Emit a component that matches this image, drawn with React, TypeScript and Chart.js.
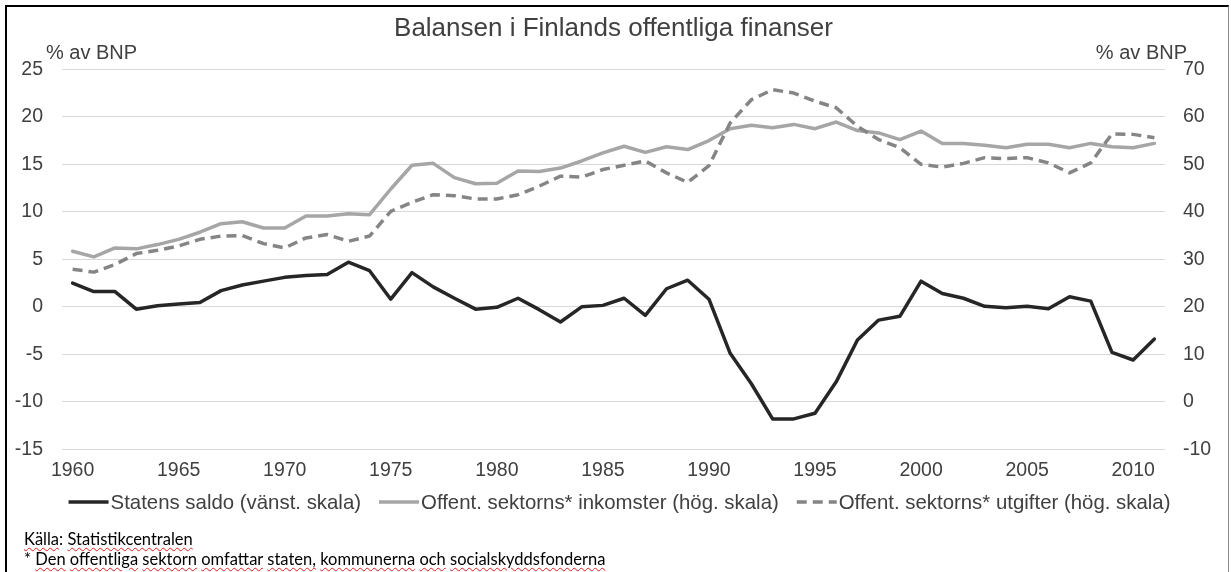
import React, { useEffect, useRef } from "react";
import { Chart, registerables } from "chart.js";

Chart.register(...registerables);

// ---------- data ----------
const years = [
  "1960", "1961", "1962", "1963", "1964", "1965", "1966", "1967", "1968", "1969",
  "1970", "1971", "1972", "1973", "1974", "1975", "1976", "1977", "1978", "1979",
  "1980", "1981", "1982", "1983", "1984", "1985", "1986", "1987", "1988", "1989",
  "1990", "1991", "1992", "1993", "1994", "1995", "1996", "1997", "1998", "1999",
  "2000", "2001", "2002", "2003", "2004", "2005", "2006", "2007", "2008", "2009",
  "2010", "2011",
];

const xTickLabels = ["1960", "1965", "1970", "1975", "1980", "1985", "1990", "1995", "2000", "2005", "2010"];

// Statens saldo (% av BNP), left scale
const statensSaldo = [
  2.5, 1.6, 1.6, -0.25, 0.1, 0.3, 0.45, 1.7, 2.3, 2.7,
  3.1, 3.3, 3.4, 4.7, 3.8, 0.8, 3.6, 2.1, 0.9, -0.25,
  -0.05, 0.9, -0.3, -1.6, 0.0, 0.15, 0.9, -0.9, 1.9, 2.8,
  0.8, -4.9, -8.1, -11.8, -11.8, -11.2, -7.9, -3.5, -1.4, -1.0,
  2.7, 1.4, 0.9, 0.05, -0.1, 0.05, -0.2, 1.05, 0.6, -4.8,
  -5.6, -3.4,
];

// Offentliga sektorns inkomster (% av BNP), right scale
const inkomster = [
  31.7, 30.5, 32.4, 32.2, 33.1, 34.2, 35.7, 37.5, 37.9, 36.6,
  36.6, 39.1, 39.1, 39.6, 39.4, 44.8, 49.8, 50.2, 47.2, 45.9,
  46.0, 48.6, 48.5, 49.2, 50.7, 52.4, 53.8, 52.5, 53.7, 53.1,
  55.0, 57.5, 58.2, 57.7, 58.4, 57.5, 58.9, 57.1, 56.6, 55.2,
  57.0, 54.4, 54.4, 54.0, 53.5, 54.2, 54.2, 53.5, 54.4, 53.7,
  53.5, 54.4,
];

// Offentliga sektorns utgifter (% av BNP), right scale
const utgifter = [
  27.9, 27.3, 28.9, 31.2, 31.9, 32.8, 34.2, 34.9, 35.0, 33.3,
  32.4, 34.5, 35.2, 33.8, 34.9, 40.1, 42.0, 43.6, 43.4, 42.7,
  42.7, 43.6, 45.4, 47.5, 47.3, 48.9, 49.8, 50.7, 48.2, 46.2,
  49.7, 58.7, 63.6, 65.7, 65.0, 63.3, 61.9, 58.0, 55.2, 53.5,
  50.0, 49.4, 50.2, 51.4, 51.2, 51.4, 50.3, 48.2, 50.3, 56.4,
  56.3, 55.6,
];

const leftMin = -15;
const leftMax = 25;
const leftStep = 5;
const rightMin = -10;
const rightMax = 70;
const rightStep = 10;

const chartTitle = "Balansen i Finlands offentliga finanser";
const axisTitle = "% av BNP";
const seriesNames = [
  "Statens saldo (vänst. skala)",
  "Offent. sektorns* inkomster (hög. skala)",
  "Offent. sektorns* utgifter (hög. skala)",
];
const sourceLabel = "Källa";
const sourceName = "Statistikcentralen";
const footNoteWords = ["Den", "offentliga", "sektorn", "omfattar", "staten,", "kommunerna", "och", "socialskyddsfonderna"];

// ---------- styles ----------
const FONT = '"Liberation Sans", Arial, sans-serif';
const TEXT = "#404040";
const GRID = "#D9D9D9";

const overlayPlugin = {
  id: "overlay",
  afterDraw(chart: any) {
    const { ctx, chartArea } = chart;
    ctx.save();
    ctx.fillStyle = TEXT;
    ctx.textBaseline = "alphabetic";

    // title
    ctx.font = `26px ${FONT}`;
    ctx.textAlign = "center";
    ctx.fillText(chartTitle, (chartArea.left + chartArea.right) / 2, 36);

    // axis titles
    ctx.font = `20px ${FONT}`;
    ctx.textAlign = "left";
    ctx.fillText(axisTitle, chartArea.left - 16, 59);
    ctx.textAlign = "right";
    ctx.fillText(axisTitle, chartArea.right + 22, 59);

    // legend
    const items = chart.data.datasets.map((ds: any) => ({
      text: ds.label,
      color: ds.borderColor,
      dash: ds.borderDash || [],
      width: ds.borderWidth,
    }));
    const sampleW = 40;
    const textGap = 2;
    const itemGap = 18;
    ctx.font = `20.4px ${FONT}`;
    let total = 0;
    items.forEach((it: any, i: number) => {
      it.tw = ctx.measureText(it.text).width;
      total += sampleW + textGap + it.tw + (i > 0 ? itemGap : 0);
    });
    let x = 619.5 - total / 2;
    const lineY = 502;
    const baseY = 509;
    items.forEach((it: any) => {
      ctx.save();
      ctx.strokeStyle = it.color;
      ctx.lineWidth = it.width;
      ctx.setLineDash(it.dash);
      ctx.lineCap = "butt";
      ctx.beginPath();
      ctx.moveTo(x, lineY);
      ctx.lineTo(x + sampleW, lineY);
      ctx.stroke();
      ctx.restore();
      ctx.textAlign = "left";
      ctx.fillStyle = TEXT;
      ctx.fillText(it.text, x + sampleW + textGap, baseY);
      x += sampleW + textGap + it.tw + itemGap;
    });
    ctx.restore();
  },
};

const wavy: React.CSSProperties = {
  textDecorationLine: "underline",
  textDecorationStyle: "wavy",
  textDecorationColor: "#e02020",
  textDecorationThickness: "1px",
  textUnderlineOffset: "2px",
};

export default function App() {
  const canvasRef = useRef<HTMLCanvasElement | null>(null);

  useEffect(() => {
    const canvas = canvasRef.current;
    if (!canvas) return;
    const chart = new Chart(canvas, {
      type: "line",
      data: {
        labels: years,
        datasets: [
          {
            label: seriesNames[0],
            data: statensSaldo,
            yAxisID: "y",
            borderColor: "#262626",
            backgroundColor: "#262626",
            borderWidth: 3.5,
            pointRadius: 0,
            borderJoinStyle: "round",
            borderCapStyle: "round",
            tension: 0,
            order: 3,
          },
          {
            label: seriesNames[1],
            data: inkomster,
            yAxisID: "y1",
            borderColor: "#A6A6A6",
            backgroundColor: "#A6A6A6",
            borderWidth: 3.5,
            pointRadius: 0,
            borderJoinStyle: "round",
            borderCapStyle: "round",
            tension: 0,
            order: 2,
          },
          {
            label: seriesNames[2],
            data: utgifter,
            yAxisID: "y1",
            borderColor: "#858585",
            backgroundColor: "#858585",
            borderWidth: 3.5,
            borderDash: [10, 6],
            pointRadius: 0,
            borderJoinStyle: "round",
            borderCapStyle: "butt",
            tension: 0,
            order: 1,
          },
        ],
      },
      options: {
        responsive: false,
        animation: false,
        events: [],
        layout: { padding: { top: 69.3, bottom: 82.7, left: 0, right: 0 } },
        plugins: {
          legend: { display: false },
          title: { display: false },
          tooltip: { enabled: false },
        },
        scales: {
          x: {
            type: "category",
            offset: true,
            grid: { display: false, drawTicks: false },
            border: { display: false },
            ticks: {
              autoSkip: false,
              maxRotation: 0,
              minRotation: 0,
              padding: 10,
              color: TEXT,
              font: { family: FONT, size: 19.5 },
              callback: (_v: any, i: number) => (xTickLabels.includes(years[i]) ? years[i] : null),
            },
            afterFit: (s: any) => {
              s.height = 40;
            },
          },
          y: {
            position: "left",
            min: leftMin,
            max: leftMax,
            ticks: {
              stepSize: leftStep,
              padding: 19,
              color: TEXT,
              font: { family: FONT, size: 19.5 },
            },
            grid: { color: GRID, lineWidth: 1, drawTicks: false },
            border: { display: false },
            afterFit: (s: any) => {
              s.width = 62;
            },
          },
          y1: {
            position: "right",
            min: rightMin,
            max: rightMax,
            ticks: {
              stepSize: rightStep,
              padding: 18,
              color: TEXT,
              font: { family: FONT, size: 19.5 },
            },
            grid: { display: false, drawTicks: false },
            border: { display: false },
            afterFit: (s: any) => {
              s.width = 66;
            },
          },
        },
      },
      plugins: [overlayPlugin],
    });
    return () => chart.destroy();
  }, []);

  const noteFont: React.CSSProperties = {
    position: "absolute",
    left: 24,
    fontFamily: "Lato, 'Open Sans', sans-serif",
    fontSize: 16.5,
    lineHeight: "20px",
    color: "#000",
    whiteSpace: "nowrap",
  };

  return (
    <div
      style={{
        position: "fixed",
        left: 0,
        top: 0,
        width: 1231,
        height: 572,
        background: "#fff",
        overflow: "hidden",
      }}
    >
      <canvas
        ref={canvasRef}
        width={1231}
        height={572}
        style={{ position: "absolute", left: 0, top: 0, display: "block" }}
      />
      <div
        style={{
          position: "absolute",
          left: 5,
          top: 5,
          width: 1221,
          height: 600,
          borderLeft: "2px solid #000",
          borderTop: "2px solid #000",
          borderRight: "1px solid #8c8c8c",
          pointerEvents: "none",
        }}
      />
      <div style={{ ...noteFont, top: 529 }}>
        <span style={wavy}>{sourceLabel}</span>: <span style={wavy}>{sourceName}</span>
      </div>
      <div style={{ ...noteFont, top: 549 }}>
        {"* "}
        {footNoteWords.map((w, i) => (
          <React.Fragment key={i}>
            <span style={wavy}>{w}</span>
            {i < footNoteWords.length - 1 ? " " : ""}
          </React.Fragment>
        ))}
      </div>
    </div>
  );
}
